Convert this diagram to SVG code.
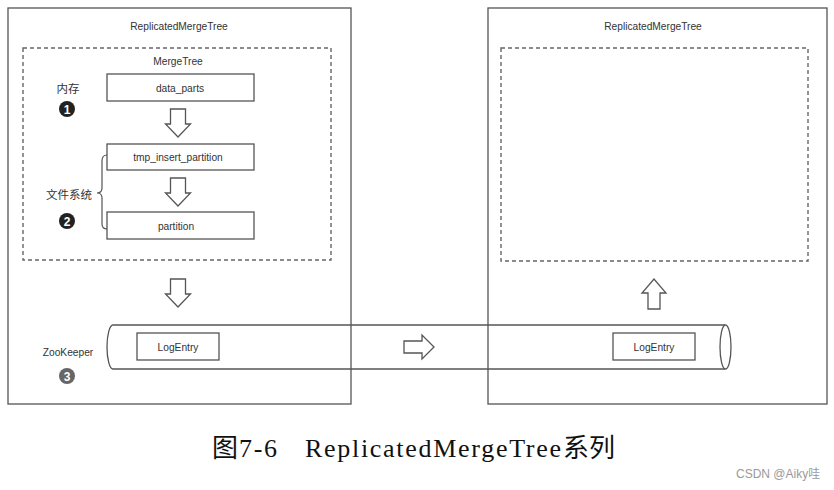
<svg xmlns="http://www.w3.org/2000/svg" width="834" height="490" viewBox="0 0 834 490">
<defs>
<style>
.box{fill:none;stroke:#555;stroke-width:1.3}
.dash{fill:none;stroke:#666;stroke-width:1.4;stroke-dasharray:4 3}
.t{font-family:"Liberation Sans",Arial,sans-serif;font-size:10.2px;fill:#333;text-anchor:middle;dominant-baseline:central}
.cjk{font-family:"Noto Sans CJK SC",sans-serif;font-size:11.5px;fill:#333;text-anchor:middle;dominant-baseline:central}
.arrow{fill:#fff;stroke:#555;stroke-width:1.3;stroke-linejoin:miter}
.num{font-family:"Liberation Sans",Arial,sans-serif;font-size:12px;font-weight:bold;fill:#fff;text-anchor:middle;dominant-baseline:central}
</style>
<path id="down" d="M-7.5,0 H7.5 V15 H12.5 L0,28 L-12.5,15 H-7.5 Z"/>
</defs>
<rect width="834" height="490" fill="#fff"/>

<g id="left-replica">
<rect class="box" x="8" y="8" width="343" height="396"/>
<text class="t" x="179" y="26">ReplicatedMergeTree</text>
</g>
<g id="mergetree">
<rect class="dash" x="23" y="48" width="308" height="212"/>
<text class="t" x="178" y="61">MergeTree</text>
</g>
<g id="data_parts">
<rect class="box" x="107" y="74" width="147" height="27"/>
<text class="t" x="180" y="88">data_parts</text>
</g>
<g id="tmp_insert_partition">
<rect class="box" x="107" y="144" width="147" height="26"/>
<text class="t" x="178" y="157">tmp_insert_partition</text>
</g>
<g id="partition">
<rect class="box" x="107" y="212" width="147" height="27"/>
<text class="t" x="176" y="226">partition</text>
</g>
<g id="label-memory">
<text class="cjk" x="68" y="88">内存</text>
<circle cx="67" cy="109" r="8" fill="#222"/>
<text class="num" x="67" y="109.5">1</text>
</g>
<g id="label-fs">
<text class="cjk" x="69" y="194">文件系统</text>
<circle cx="67" cy="221" r="8" fill="#222"/>
<text class="num" x="67" y="221.5">2</text>
</g>
<g id="label-zk">
<text class="t" x="68" y="352">ZooKeeper</text>
<circle cx="67" cy="376" r="8" fill="#666"/>
<text class="num" x="67" y="376.5">3</text>
</g>

<g id="right-replica">
<rect class="box" x="488" y="8" width="339" height="396"/>
<text class="t" x="653" y="26">ReplicatedMergeTree</text>
<rect class="dash" x="501" y="48" width="307" height="213"/>
</g>

<g id="zookeeper-log">
<path class="box" d="M725,325 L113,325 A6,22 0 0 0 113,369 L725,369"/>
<ellipse class="box" cx="725.5" cy="347" rx="5.5" ry="22" fill="#fff"/>
</g>
<g id="logentry-left">
<rect class="box" x="137" y="333" width="82" height="27"/>
<text class="t" x="178" y="347">LogEntry</text>
</g>
<g id="logentry-right">
<rect class="box" x="613" y="333" width="82" height="27"/>
<text class="t" x="654" y="347">LogEntry</text>
</g>

<g id="connectors">
<use href="#down" class="arrow" transform="translate(178,109)"/>
<use href="#down" class="arrow" transform="translate(178,178)"/>
<use href="#down" class="arrow" transform="translate(178,279)"/>
<path class="arrow" d="M648,309 V293 H642 L654,279 L666,293 H660 V309 Z"/>
<path class="arrow" d="M404,341 H422 V335 L434,347 L422,359 V353 H404 Z"/>
<path fill="none" stroke="#555" stroke-width="1.2" d="M107,155 Q102,155 102,161 L102,188 Q102,193 97,193 Q102,193 102,198 L102,224 Q102,229 107,229"/>
</g>

<g id="caption">
<text y="457" font-size="26" fill="#111"><tspan x="212" font-family="Noto Sans CJK SC, sans-serif" font-size="26">图</tspan><tspan x="239" font-family="Liberation Serif, serif" textLength="38">7-6</tspan><tspan x="305" font-family="Liberation Serif, serif" textLength="256">ReplicatedMergeTree</tspan><tspan x="563" font-family="Noto Sans CJK SC, sans-serif" font-size="26">系列</tspan></text>
</g>
<g id="watermark">
<text x="736" y="478" font-family="Liberation Sans, Noto Sans CJK SC, sans-serif" font-size="12" fill="#999">CSDN @Aiky哇</text>
</g>
</svg>
